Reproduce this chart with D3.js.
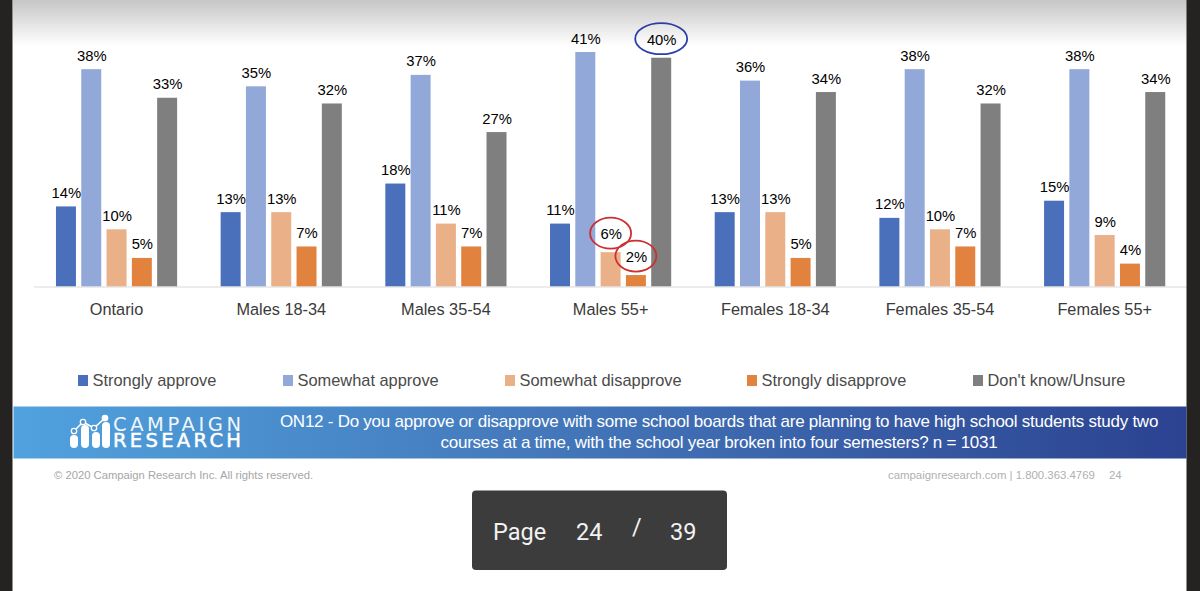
<!DOCTYPE html>
<html><head><meta charset="utf-8">
<script src="https://cdnjs.cloudflare.com/ajax/libs/d3/7.8.5/d3.min.js"></script>
<style>html,body{margin:0;padding:0;background:#fff}svg{display:block}text{font-family:"Liberation Sans",Arial,sans-serif}</style>
</head><body><svg id="c" width="1200" height="591"></svg>
<script>
const categories = ["Ontario","Males 18-34","Males 35-54","Males 55+","Females 18-34","Females 35-54","Females 55+"];
const seriesNames = ["Strongly approve","Somewhat approve","Somewhat disapprove","Strongly disapprove","Don't know/Unsure"];
const stronglyApprove = [14,13,18,11,13,12,15];
const somewhatApprove = [38,35,37,41,36,38,38];
const somewhatDisapprove = [10,13,11,6,13,10,9];
const stronglyDisapprove = [5,7,7,2,5,7,4];
const dontKnow = [33,32,27,40,34,32,34];
const colors = ["#4a70bb","#92a8d9","#eab088","#e2823f","#7f7f7f"];
const question = ["ON12 - Do you approve or disapprove with some school boards that are planning to have high school students study two","courses at a time, with the school year broken into four semesters? n = 1031"];
const circled = [{c:3,s:3,color:"#cc2f2f"},{c:3,s:2,color:"#cc2f2f"},{c:3,s:4,color:"#2a3fa8"}];

const series = [stronglyApprove,somewhatApprove,somewhatDisapprove,stronglyDisapprove,dontKnow];
const svg = d3.select("#c");
const defs = svg.append("defs");
const g1 = defs.append("linearGradient").attr("id","top").attr("x1",0).attr("x2",0).attr("y1",0).attr("y2",1);
g1.append("stop").attr("offset",0).attr("stop-color","#c6c6c6");
g1.append("stop").attr("offset",1).attr("stop-color","#ffffff");
const g2 = defs.append("linearGradient").attr("id","ban");
g2.append("stop").attr("offset",0).attr("stop-color","#50a2de");
g2.append("stop").attr("offset",0.45).attr("stop-color","#4478bb");
g2.append("stop").attr("offset",1).attr("stop-color","#2b4291");
svg.append("rect").attr("x",13).attr("y",0).attr("width",1174).attr("height",46).attr("fill","url(#top)");

const x0 = d3.scaleBand().domain(d3.range(categories.length)).range([34.2,1187]);
const x1 = d3.scaleBand().domain(d3.range(5)).range([x0.bandwidth()/2-65.9,x0.bandwidth()/2+65.9]).padding(0.21);
const y = d3.scaleLinear().domain([0,41]).range([286.5,52]);

const grp = svg.append("g").selectAll("g").data(categories).join("g").attr("transform",(d,i)=>`translate(${x0(i)},0)`);
series.forEach((vals,s)=>{
  grp.append("rect").attr("x",x1(s)).attr("width",x1.bandwidth())
    .attr("y",(d,i)=>y(vals[i])).attr("height",(d,i)=>y(0)-y(vals[i])).attr("fill",colors[s]);
});
svg.append("line").attr("x1",34).attr("x2",1187).attr("y1",287).attr("y2",287).attr("stroke","#d9d9d9").attr("stroke-width",1);

const isCircled=(c,s)=>circled.some(o=>o.c===c&&o.s===s);
series.forEach((vals,s)=>{
  grp.append("text").attr("x",x1(s)+x1.bandwidth()/2+0.5)
    .attr("y",(d,i)=>y(vals[i])-(isCircled(i,s)?13:8.5))
    .attr("text-anchor","middle").attr("font-size",14.8).attr("fill","#000")
    .text((d,i)=>vals[i]+"%");
});
circled.forEach(o=>{
  const cx=x0(o.c)+x1(o.s)+x1.bandwidth()/2;
  const cy=y(series[o.s][o.c])-19;
  const big=o.s===4;
  svg.append("ellipse").attr("cx",cx).attr("cy",cy).attr("rx",big?26:20.5).attr("ry",15.5)
    .attr("fill","none").attr("stroke",o.color).attr("stroke-width",1.8);
});

const axis = d3.axisBottom(d3.scalePoint().domain(categories).range([x0(0)+x0.bandwidth()/2-0.5,x0(6)+x0.bandwidth()/2-0.5])).tickSize(0).tickPadding(0);
const ax = svg.append("g").attr("transform","translate(0,304)").call(axis);
ax.select(".domain").remove();
ax.selectAll("text").attr("font-size",16.3).attr("fill","#3a3a3a").attr("dy","0.71em").attr("y",-1)
  .style("font-family",'"Liberation Sans",Arial,sans-serif');

const legendX = d3.scaleOrdinal().domain(seriesNames).range([78,283,505,747,973]);
const lg = svg.append("g").selectAll("g").data(seriesNames).join("g").attr("transform",d=>`translate(${legendX(d)},375)`);
lg.append("rect").attr("width",10).attr("height",11).attr("fill",(d,i)=>colors[i]);
lg.append("text").attr("x",14.5).attr("y",11).attr("font-size",16.4).attr("fill","#4a4a4a").text(d=>d);

svg.append("rect").attr("x",13.5).attr("y",406.5).attr("width",1173).attr("height",52).attr("fill","url(#ban)");
// logo
const logo = svg.append("g").attr("fill","#fff");
[[70,435,448],[81,425,448],[92,432,448],[102,422,448]].forEach(b=>{
  logo.append("rect").attr("x",b[0]).attr("y",b[1]).attr("width",8).attr("height",b[2]-b[1]).attr("rx",4);
});
logo.append("polyline").attr("points","74,431 83,422 94,428 105,418").attr("fill","none").attr("stroke","#fff").attr("stroke-width",1.6);
[[74,431],[83,422],[94,428],[105,418]].forEach(p=>logo.append("circle").attr("cx",p[0]).attr("cy",p[1]).attr("r",2.7).attr("fill",p[1]===418?"#fff":"#4f95d4").attr("stroke","#fff").attr("stroke-width",1.3));
const logoText = svg.append("text").attr("fill","#fff").attr("font-size",19.5).style("font-family","'DejaVu Sans', 'Liberation Sans'");
logoText.append("tspan").attr("x",113).attr("y",430.5).attr("font-weight",400).attr("textLength",128).attr("lengthAdjust","spacing").attr("opacity",0.92).text("CAMPAIGN");
logoText.append("tspan").attr("x",113).attr("y",447).attr("font-weight",400).attr("stroke","#fff").attr("stroke-width",0.5).attr("textLength",128).attr("lengthAdjust","spacing").text("RESEARCH");

question.forEach((t,i)=>svg.append("text").attr("x",719).attr("y",427+i*20.5).attr("text-anchor","middle").attr("font-size",17).style("letter-spacing","-0.25px").attr("fill","#fff").text(t));

svg.append("text").attr("x",54).attr("y",479).attr("font-size",11.25).attr("fill","#a6a6a6").text("© 2020 Campaign Research Inc. All rights reserved.");
svg.append("text").attr("x",888).attr("y",479).attr("font-size",11.4).attr("fill","#b0b0b0").text("campaignresearch.com | 1.800.363.4769");
svg.append("text").attr("x",1109).attr("y",479).attr("font-size",11.4).attr("fill","#b0b0b0").text("24");

svg.append("rect").attr("x",0).attr("y",0).attr("width",12.5).attr("height",591).attr("fill","#242322");
svg.append("rect").attr("x",1186.5).attr("y",0).attr("width",13.5).attr("height",591).attr("fill","#242322");

svg.append("rect").attr("x",472).attr("y",490.5).attr("width",255).attr("height",79.5).attr("rx",4).attr("fill","#3c3c3c");
[["Page",493],["24",576],["/",632],["39",670]].forEach(d=>svg.append("text").attr("x",d[1]).attr("y",540).attr("font-size",23.5).attr("fill","#f2f2f2").style("font-family","Roboto, 'Liberation Sans'").attr("dy",d[0]==="/"?-5:0).text(d[0]));
</script></body></html>
